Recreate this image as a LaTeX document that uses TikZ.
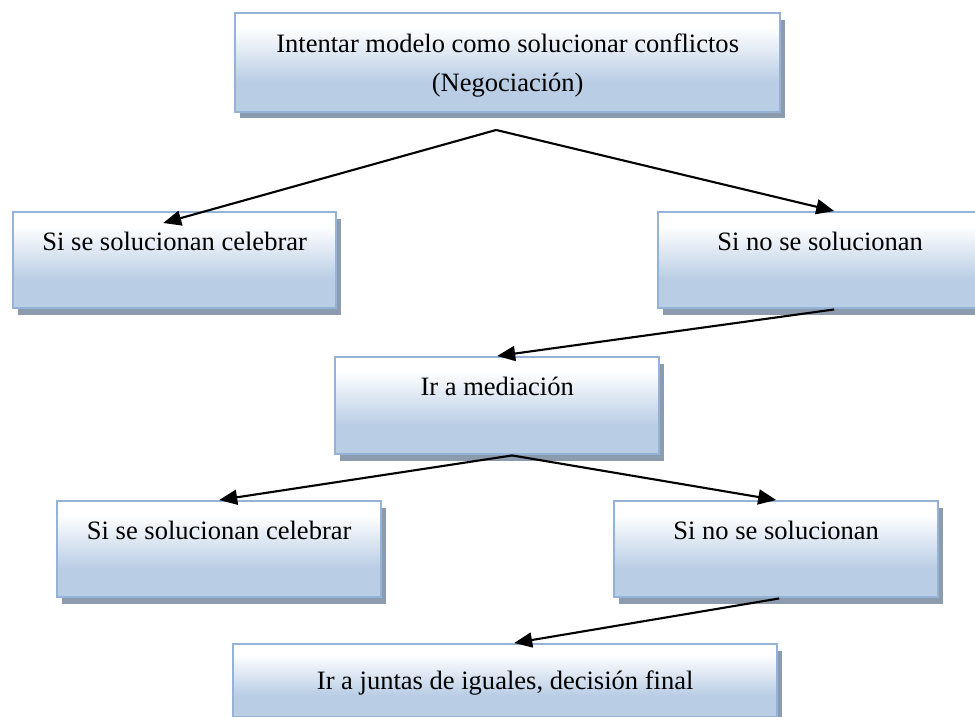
\documentclass[tikz,border=0pt]{standalone}
\usepackage{fontspec}
\setmainfont{Liberation Serif}
\usepackage{tikz}
\usetikzlibrary{arrows.meta,shadows}
\usepackage{xcolor}
\definecolor{box-blue}{RGB}{185,205,229}
\definecolor{box-border}{RGB}{149,179,215}
\definecolor{box-shadow}{RGB}{141,155,174}
\pgfdeclareverticalshading{box-fade}{100bp}{color(0bp)=(box-blue); color(40bp)=(box-blue); color(68bp)=(white); color(100bp)=(white)}
\tikzstyle{flowbox}=[draw=box-border, line width=1.4pt, shade, shading=box-fade, drop shadow={shadow xshift=.09cm, shadow yshift=-.13cm, fill=box-shadow, opacity=1}, anchor=north west, inner sep=0pt, font=\fontsize{15.1}{22.5}\selectfont]
\tikzstyle{oneline}=[text height=.76cm, text depth=1.16cm]
\tikzstyle{flowarrow}=[line width=1.2pt, -{Triangle[length=.36cm,width=.3cm]}]

\begin{document}
\begin{tikzpicture}[x=.02cm, y=-.02cm]
	\useasboundingbox (0,0) rectangle (975,717);
	\node[flowbox, minimum width=10.9cm, minimum height=1.94cm, align=center, yshift=0cm] (neg) at (234,12) {\rule{0pt}{.78cm}Intentar modelo como solucionar conflictos\\(Negociación)\rule[-.4cm]{0pt}{.4cm}};
	\node[flowbox, oneline, minimum width=6.46cm] (sicel1) at (12,211) {Si se solucionan celebrar};
	\node[flowbox, oneline, minimum width=6.48cm] (nosol1) at (657,211) {Si no se solucionan};
	\node[flowbox, oneline, minimum width=6.48cm, text depth=1.18cm] (med) at (334,356) {Ir a mediación};
	\node[flowbox, oneline, minimum width=6.48cm] (sicel2) at (56,500) {Si se solucionan celebrar};
	\node[flowbox, oneline, minimum width=6.48cm] (nosol2) at (613,500) {Si no se solucionan};
	\node[flowbox, minimum width=10.88cm, text height=.9cm, text depth=.56cm] (juntas) at (232,643) {Ir a juntas de iguales, decisión final};
	\draw[flowarrow] ([xshift=-.23cm,yshift=-.34cm]neg.south) -- ([xshift=-.23cm,yshift=-.24cm]sicel1.north);
	\draw[flowarrow] ([xshift=-.23cm,yshift=-.34cm]neg.south) -- ([xshift=.28cm]nosol1.north);
	\draw[flowarrow] ([xshift=.28cm]nosol1.south) -- (med.north);
	\draw[flowarrow] ([xshift=.3cm]med.south) -- (sicel2.north);
	\draw[flowarrow] ([xshift=.3cm]med.south) -- (nosol2.north);
	\draw[flowarrow] ([xshift=.06cm]nosol2.south) -- ([xshift=.18cm]juntas.north);
\end{tikzpicture}
\end{document}
